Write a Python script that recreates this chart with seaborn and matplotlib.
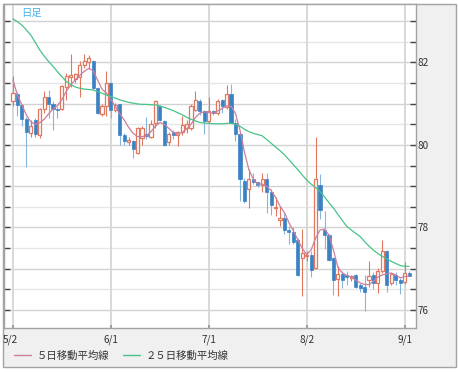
import numpy as np
import matplotlib
matplotlib.use("Agg")
import matplotlib.pyplot as plt
from matplotlib.patches import Rectangle
from matplotlib.lines import Line2D
from matplotlib.transforms import ScaledTranslation
import seaborn as sns

# ── data (one candle per weekday from 5/2) ──────────────────────────────
tick_pos = [0, 22, 44, 66, 88]
tick_labels = ["5/2", "6/1", "7/1", "8/2", "9/1"]

open_ = [81.05, 81.23, 80.97, 80.63, 80.28, 80.59, 80.24, 80.86, 81.15, 80.98,
         80.88, 80.86, 81.40, 81.65, 81.60, 81.64, 81.93, 82.00, 82.03, 81.37,
         80.75, 80.94, 81.50, 80.85, 80.98, 80.25, 80.08, 80.10, 79.80, 80.16,
         80.27, 80.20, 80.52, 80.95, 80.57, 80.06, 80.30, 80.24, 80.32, 80.40,
         80.40, 80.85, 81.05, 80.81, 80.57, 80.82, 80.76, 81.08, 80.92, 81.23,
         80.54, 80.26, 79.13, 78.93, 79.17, 79.09, 79.02, 79.17, 78.87, 78.47,
         78.18, 78.22, 77.94, 77.90, 77.70, 77.26, 77.31, 77.34, 77.02, 79.03,
         77.93, 77.82, 77.26, 76.75, 76.88, 76.85, 76.77, 76.85, 76.61, 76.57,
         76.72, 76.85, 76.65, 76.94, 77.42, 76.65, 76.85, 76.73, 76.67, 76.90]
high = [81.67, 81.27, 81.00, 80.68, 80.60, 80.65, 80.89, 81.30, 81.32, 81.06,
        80.94, 81.45, 81.73, 82.20, 81.75, 82.04, 82.20, 82.17, 82.06, 81.40,
        80.99, 81.78, 81.52, 81.02, 81.00, 80.28, 80.20, 80.12, 80.44, 80.45,
        80.68, 80.60, 81.08, 80.97, 80.60, 80.32, 80.35, 80.34, 80.70, 80.60,
        80.98, 81.30, 81.10, 80.85, 81.15, 80.85, 81.12, 81.12, 81.44, 81.47,
        80.62, 80.30, 79.21, 79.41, 79.33, 79.10, 79.33, 79.33, 78.93, 78.73,
        78.52, 78.36, 78.04, 78.00, 77.74, 77.96, 77.42, 77.42, 80.20, 79.30,
        78.39, 77.85, 77.28, 77.06, 76.94, 76.95, 76.85, 76.88, 76.65, 76.85,
        77.18, 76.93, 77.02, 77.70, 77.46, 76.90, 76.93, 76.77, 77.16, 76.95]
low = [80.93, 80.70, 80.45, 79.47, 80.19, 80.20, 80.16, 80.77, 80.65, 80.37,
       80.65, 80.84, 81.09, 81.40, 81.50, 81.17, 81.85, 81.83, 81.33, 80.75,
       80.70, 80.70, 80.65, 80.80, 80.00, 80.00, 80.00, 79.69, 79.78, 80.00,
       80.13, 80.16, 80.40, 80.57, 79.98, 80.00, 80.15, 79.97, 80.24, 80.29,
       80.37, 80.81, 80.73, 80.26, 80.53, 80.72, 80.72, 80.78, 80.88, 80.52,
       80.10, 78.65, 78.60, 78.48, 79.05, 78.99, 78.85, 78.36, 78.30, 78.28,
       78.04, 77.84, 77.60, 77.60, 76.83, 76.33, 77.20, 76.81, 77.00, 78.20,
       77.48, 77.20, 76.37, 76.33, 76.53, 76.60, 76.70, 76.53, 76.45, 75.97,
       76.55, 76.50, 76.41, 76.90, 76.43, 76.60, 76.60, 76.40, 76.63, 76.86]
close = [81.25, 80.97, 80.62, 80.32, 80.46, 80.26, 80.87, 81.15, 81.00, 80.88,
         80.84, 81.43, 81.67, 81.68, 81.72, 81.94, 82.03, 82.10, 81.37, 80.77,
         80.94, 81.50, 80.85, 80.97, 80.23, 80.09, 80.12, 79.90, 80.40, 80.40,
         80.22, 80.50, 81.05, 80.61, 80.00, 80.26, 80.24, 80.32, 80.48, 80.50,
         80.93, 81.09, 80.81, 80.57, 80.81, 80.76, 81.06, 80.94, 81.24, 80.54,
         80.26, 79.17, 78.65, 79.17, 79.09, 79.02, 79.17, 78.85, 78.55, 78.50,
         78.22, 77.94, 77.89, 77.66, 76.85, 77.38, 77.34, 76.98, 79.17, 78.43,
         77.82, 77.22, 76.73, 76.88, 76.73, 76.80, 76.82, 76.57, 76.53, 76.43,
         76.83, 76.65, 76.94, 77.44, 76.61, 76.87, 76.73, 76.65, 76.91, 76.82]

ma5 = [81.57, 81.20, 80.97, 80.72, 80.56, 80.50, 80.53, 80.62, 80.75, 80.87,
       80.95, 81.10, 81.30, 81.45, 81.58, 81.68, 81.78, 81.85, 81.80, 81.57,
       81.35, 81.25, 81.10, 80.93, 80.75, 80.60, 80.42, 80.28, 80.20, 80.20,
       80.22, 80.32, 80.45, 80.54, 80.50, 80.40, 80.30, 80.26, 80.30, 80.38,
       80.50, 80.66, 80.77, 80.80, 80.78, 80.76, 80.82, 80.88, 80.95, 80.93,
       80.76, 80.36, 79.83, 79.40, 79.17, 79.05, 79.05, 79.00, 78.89, 78.73,
       78.52, 78.36, 78.12, 77.92, 77.70, 77.50, 77.34, 77.46, 77.74, 77.94,
       77.96, 77.82, 77.46, 77.04, 76.90, 76.84, 76.80, 76.73, 76.66, 76.62,
       76.62, 76.70, 76.80, 76.85, 76.88, 76.90, 76.85, 76.78, 76.81, 76.83]
ma25 = [83.05, 82.98, 82.90, 82.78, 82.66, 82.48, 82.30, 82.15, 82.02, 81.90,
        81.77, 81.65, 81.53, 81.46, 81.40, 81.37, 81.35, 81.34, 81.33, 81.29,
        81.25, 81.21, 81.17, 81.13, 81.09, 81.06, 81.03, 81.01, 80.99, 80.98,
        80.98, 80.97, 80.97, 80.94, 80.91, 80.87, 80.83, 80.78, 80.73, 80.67,
        80.62, 80.58, 80.54, 80.53, 80.52, 80.51, 80.51, 80.51, 80.52, 80.52,
        80.50, 80.45, 80.38, 80.32, 80.28, 80.25, 80.22, 80.13, 80.04, 79.95,
        79.86, 79.76, 79.64, 79.52, 79.40, 79.27, 79.15, 79.05, 78.97, 78.87,
        78.74, 78.60, 78.47, 78.32, 78.17, 78.03, 77.94, 77.86, 77.78, 77.66,
        77.55, 77.45, 77.37, 77.30, 77.24, 77.18, 77.13, 77.08, 77.06, 77.06]

# ── style ─────────────────────────────────────────────────────
sns.set_theme(style="white")
plt.rcParams["font.family"] = ["Noto Sans CJK JP", "DejaVu Sans"]

UP = "#e2775f"
DOWN = "#3b82c4"
DOWN_WICK = "#86b6e0"
MA5_COL = "#cc7f9d"
MA25_COL = "#47c388"
TXT = "#333333"

W, H = 458, 372
fig = plt.figure(figsize=(W / 100, H / 100), dpi=100, facecolor="white")
frame = Rectangle((3 / W, 5 / H), 453 / W, 363 / H, transform=fig.transFigure,
                  facecolor="#f0f0f0", edgecolor="#a3a3a3", lw=1, zorder=-10)
fig.add_artist(frame)
ax = fig.add_axes([4 / W, 44 / H, 412 / W, 324 / H])
ax.set_zorder(1)
ax.set_facecolor("white")

idx = np.arange(len(close))
o, h, l, c = map(np.array, (open_, high, low, close))
up = c >= o

# grid: darker at whole yen, lighter at half
for v in np.arange(76.0, 83.01, 0.5):
    ax.axhline(v, color="#d2d2d2" if v % 1 == 0 else "#e6e6e6", lw=1, zorder=0)
for p in tick_pos:
    ax.axvline(p, color="#d6d6d6", lw=1.3, zorder=0)

# candles
ax.vlines(idx[up], l[up], h[up], color=UP, lw=0.8, zorder=2)
ax.vlines(idx[~up], l[~up], h[~up], color=DOWN_WICK, lw=0.8, zorder=2)
body_lo = np.minimum(o, c)
body_h = np.maximum(np.abs(c - o), 0.025)
ax.bar(idx[up], body_h[up], bottom=body_lo[up], width=0.7,
       facecolor="white", edgecolor=UP, linewidth=0.9, zorder=3)
ax.bar(idx[~up], body_h[~up], bottom=body_lo[~up], width=0.7,
       facecolor=DOWN, edgecolor=DOWN, linewidth=0.5, zorder=3)

# moving averages
sns.lineplot(x=idx, y=ma5, ax=ax, color=MA5_COL, lw=0.9, label="５日移動平均線", zorder=4)
sns.lineplot(x=idx, y=ma25, ax=ax, color=MA25_COL, lw=0.9, label="２５日移動平均線", zorder=4)
ax.get_legend().remove()

ax.set_xlim(-2.02, 90.56)
ax.set_ylim(75.567, 83.41)

ax.set_xticks(tick_pos)
ax.set_xticklabels(tick_labels)
yt = np.arange(76.0, 83.01, 0.5)
ax.set_yticks(yt)
ax.set_yticklabels([f"{v:.0f}" if v % 2 == 0 else "" for v in yt])
ax.tick_params(axis="y", which="both", left=True, right=True, labelleft=False,
               labelright=True, direction="in", length=4.5, width=1,
               color="#444444", labelsize=7.2, labelcolor=TXT, pad=1)
ax.tick_params(axis="x", bottom=True, direction="in", length=2, color="#999999",
               labelsize=7.2, labelcolor=TXT, pad=5)
# first date label sits against the left border
first = ax.get_xticklabels()[0]
first.set_transform(first.get_transform() + ScaledTranslation(-3 / 100, 0, fig.dpi_scale_trans))
for s in ax.spines.values():
    s.set_color("#a3a3a3")
    s.set_linewidth(1)

ax.text(17 / 412, 1 - 8.5 / 324, "日足", transform=ax.transAxes, ha="left", va="center",
        color="#45b2ee", fontsize=7.4)

handles = [Line2D([], [], color=MA5_COL, lw=1), Line2D([], [], color=MA25_COL, lw=1)]
fig.legend(handles, ["５日移動平均線", "２５日移動平均線"], ncol=2, frameon=False,
           loc="center left", bbox_to_anchor=(14 / W, 16 / H), borderaxespad=0,
           borderpad=0, handlelength=1.6, handletextpad=0.6, columnspacing=1.3,
           prop={"size": 7.5}, labelcolor=TXT)

fig.savefig("out.png", dpi=100, facecolor="white")
